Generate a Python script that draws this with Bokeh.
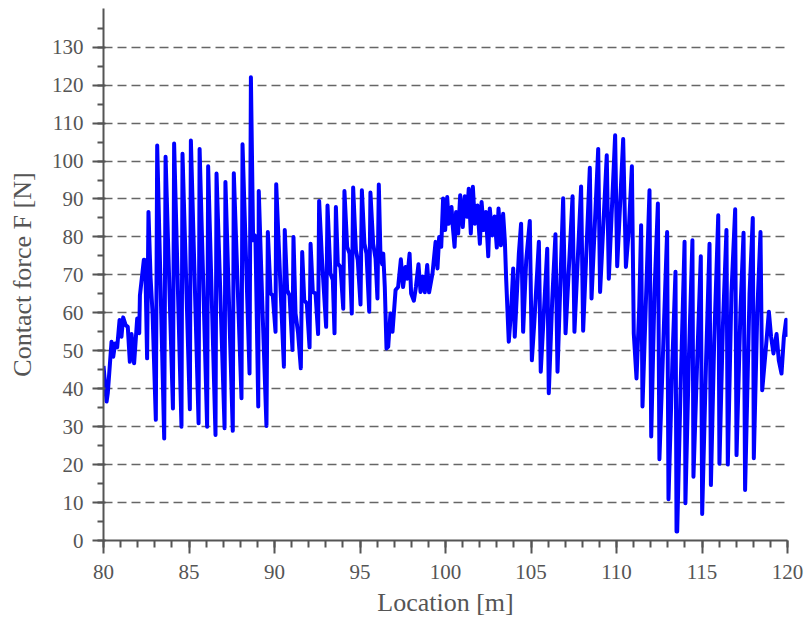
from bokeh.plotting import figure
from bokeh.models import Range1d, FixedTicker
from bokeh.embed import file_html
from bokeh.resources import INLINE

location = [
    80.00, 80.18, 80.25, 80.47, 80.57, 80.68, 80.80, 80.94, 81.05, 81.15,
    81.29, 81.42, 81.54, 81.64, 81.79, 81.97, 82.09, 82.13, 82.36, 82.44,
    82.55, 82.63, 82.75, 82.87, 83.06, 83.14, 83.55, 83.63, 84.06, 84.13,
    84.56, 84.62, 85.05, 85.11, 85.56, 85.62, 86.06, 86.12, 86.55, 86.61,
    87.08, 87.13, 87.56, 87.62, 88.07, 88.13, 88.54, 88.62, 88.75, 88.85,
    88.89, 89.05, 89.08, 89.28, 89.53, 89.61, 89.77, 89.90, 90.06, 90.10,
    90.35, 90.55, 90.60, 90.74, 90.88, 91.05, 91.11, 91.23, 91.38, 91.54,
    91.62, 91.74, 91.89, 92.05, 92.11, 92.24, 92.40, 92.55, 92.61, 92.79,
    93.02, 93.10, 93.27, 93.41, 93.51, 93.59, 93.70, 93.86, 94.02, 94.09,
    94.25, 94.39, 94.52, 94.60, 94.76, 94.87, 95.03, 95.11, 95.26, 95.38,
    95.54, 95.61, 95.77, 95.91, 96.02, 96.10, 96.20, 96.30, 96.36, 96.45,
    96.55, 96.65, 96.78, 96.90, 97.08, 97.23, 97.39, 97.52, 97.66, 97.76,
    97.90, 97.99, 98.15, 98.27, 98.42, 98.54, 98.66, 98.79, 98.93, 99.04,
    99.24, 99.42, 99.53, 99.63, 99.75, 99.86, 99.98, 100.10, 100.19, 100.35,
    100.43, 100.53, 100.62, 100.74, 100.86, 101.01, 101.13, 101.25, 101.36, 101.48,
    101.60, 101.72, 101.87, 102.01, 102.11, 102.24, 102.36, 102.50, 102.59, 102.73,
    102.87, 103.00, 103.10, 103.24, 103.37, 103.47, 103.55, 103.70, 103.84, 103.96,
    104.05, 104.29, 104.42, 104.54, 104.72, 104.93, 105.05, 105.19, 105.46, 105.57,
    105.77, 105.95, 106.04, 106.24, 106.43, 106.55, 106.88, 107.02, 107.43, 107.54,
    107.93, 108.05, 108.44, 108.54, 108.93, 109.04, 109.43, 109.55, 109.92, 110.04,
    110.39, 110.55, 110.72, 110.90, 111.01, 111.17, 111.33, 111.44, 111.52, 111.71,
    111.93, 112.03, 112.22, 112.42, 112.51, 112.77, 112.96, 113.04, 113.27, 113.45,
    113.51, 113.55, 113.74, 113.98, 114.03, 114.23, 114.44, 114.50, 114.72, 114.93,
    115.01, 115.24, 115.44, 115.52, 115.71, 115.95, 116.02, 116.22, 116.43, 116.51,
    116.72, 116.94, 117.02, 117.25, 117.43, 117.52, 117.78, 117.97, 118.03, 118.23,
    118.42, 118.52, 118.71, 118.91, 119.04, 119.18, 119.36, 119.49, 119.65, 119.79,
    119.92, 120.00,
]

contact_force = [
    46.0, 36.6, 38.8, 52.4, 48.4, 51.9, 50.9, 58.1, 53.7, 58.8,
    56.8, 56.3, 47.1, 54.4, 46.7, 58.5, 54.6, 64.6, 74.0, 73.9,
    48.0, 86.6, 69.5, 59.8, 31.8, 104.1, 26.9, 101.1, 34.8, 104.6,
    30.0, 101.9, 34.6, 105.4, 30.9, 103.2, 30.0, 98.6, 27.8, 96.7,
    29.6, 94.5, 28.9, 96.8, 37.5, 104.4, 44.0, 122.1, 79.1, 80.4,
    78.7, 35.3, 92.1, 63.3, 30.2, 81.3, 65.1, 64.6, 55.0, 93.9,
    66.8, 45.8, 81.8, 66.0, 64.6, 50.2, 80.0, 59.8, 54.6, 45.4,
    76.0, 63.3, 62.5, 50.9, 78.2, 65.5, 65.1, 54.4, 89.5, 73.0,
    56.3, 88.3, 70.4, 68.6, 54.6, 87.9, 73.0, 72.1, 61.1, 92.1,
    77.4, 75.6, 59.8, 93.0, 76.5, 73.9, 62.2, 92.3, 78.2, 75.6,
    60.3, 91.7, 78.2, 74.3, 63.8, 93.8, 74.7, 72.8, 75.6, 66.8,
    50.6, 51.1, 59.8, 55.0, 66.0, 66.8, 74.1, 66.8, 72.1, 69.0,
    75.6, 65.1, 63.2, 66.8, 72.8, 65.5, 69.6, 65.4, 72.6, 65.4,
    70.4, 78.7, 71.7, 80.0, 77.4, 90.1, 81.8, 90.5, 83.5, 87.9,
    82.6, 77.4, 86.6, 80.9, 91.0, 82.6, 90.7, 85.3, 92.7, 80.9,
    93.2, 83.5, 88.3, 78.2, 89.2, 81.8, 86.6, 74.9, 87.5, 80.4,
    85.4, 77.2, 87.5, 77.8, 86.1, 79.1, 68.6, 52.4, 60.7, 71.7,
    53.7, 75.6, 83.5, 55.0, 73.9, 84.2, 47.5, 57.2, 78.7, 44.5,
    61.6, 76.9, 38.8, 63.3, 80.7, 44.5, 90.2, 54.6, 90.7, 55.0,
    93.3, 55.3, 98.2, 63.8, 103.2, 65.5, 101.5, 69.0, 106.8, 72.3,
    105.8, 72.1, 81.8, 98.6, 54.6, 42.7, 61.6, 83.1, 35.3, 61.6,
    92.3, 27.4, 65.1, 88.8, 21.4, 56.3, 81.3, 10.9, 47.5, 70.8,
    2.4, 2.4, 38.8, 78.7, 9.8, 47.5, 79.1, 16.8, 47.5, 74.9,
    7.0, 47.5, 78.2, 14.6, 51.9, 85.7, 20.2, 56.3, 81.8, 20.0,
    65.1, 87.3, 22.5, 60.7, 81.1, 13.3, 65.1, 85.0, 21.7, 59.8,
    81.3, 39.6, 49.3, 60.3, 53.7, 49.3, 54.4, 47.5, 44.0, 53.7,
    58.2, 53.7,
]

x_ticks = [80, 85, 90, 95, 100, 105, 110, 115, 120]
x_minor = list(range(80, 121))
y_ticks = [0, 10, 20, 30, 40, 50, 60, 70, 80, 90, 100, 110, 120, 130]
y_minor = list(range(0, 140, 5))

FONT = "Liberation Serif"
GREY = "#555555"

p = figure(width=805, height=619, output_backend="svg", toolbar_location=None,
           x_range=Range1d(80, 120), y_range=Range1d(0, 140.2),
           min_border_left=103, min_border_right=18, min_border_top=8,
           min_border_bottom=78)
p.outline_line_color = None
p.background_fill_color = "white"
p.border_fill_color = "white"

p.line(location, contact_force, line_color="#0000ff", line_width=4,
       line_join="round")

p.xaxis.ticker = FixedTicker(ticks=x_ticks, minor_ticks=x_minor)
p.yaxis.ticker = FixedTicker(ticks=y_ticks, minor_ticks=y_minor)

p.xaxis.axis_label = "Location [m]"
p.yaxis.axis_label = "Contact force F [N]"
for ax in (p.xaxis, p.yaxis):
    ax.axis_line_color = GREY
    ax.axis_line_width = 2
    ax.major_tick_line_color = GREY
    ax.major_tick_line_width = 2
    ax.minor_tick_line_color = GREY
    ax.minor_tick_line_width = 2
    ax.major_label_text_font = FONT
    ax.major_label_text_font_size = "21px"
    ax.major_label_text_color = GREY
    ax.axis_label_text_font = FONT
    ax.axis_label_text_font_size = "26px"
    ax.axis_label_text_font_style = "normal"
    ax.axis_label_text_color = GREY

p.xaxis.major_tick_out = 13
p.xaxis.major_tick_in = 0
p.xaxis.minor_tick_out = 7
p.xaxis.minor_tick_in = 0
p.xaxis.major_label_standoff = 11
p.xaxis.axis_label_standoff = 6

p.yaxis.major_tick_out = 11
p.yaxis.major_tick_in = 2
p.yaxis.minor_tick_out = 6
p.yaxis.minor_tick_in = 0
p.yaxis.major_label_standoff = 9
p.yaxis.axis_label_standoff = 12

p.xgrid.grid_line_color = None
p.ygrid.grid_line_color = "#666666"
p.ygrid.grid_line_width = 1.4
p.ygrid.grid_line_dash = "9 5"

open("out.html", "w").write(file_html(p, INLINE))
